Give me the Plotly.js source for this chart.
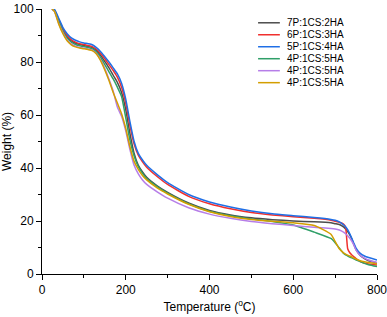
<!DOCTYPE html>
<html>
<head>
<meta charset="utf-8">
<script src="https://cdn.plot.ly/plotly-3.0.1.min.js"></script>
<style>html,body{margin:0;padding:0;background:#fff;}#chart{width:387px;height:317px;}</style>
</head>
<body>
<div id="chart"></div>
<script>
// Temperature (°C)
var temperature = [24, 30, 40, 50, 60, 70, 80, 90, 100, 110, 120, 130, 140, 150, 160, 170, 180, 190, 200, 210, 220, 230, 240, 250, 275, 300, 350, 400, 450, 500, 550, 600, 650, 690, 700, 710, 720, 725, 730, 735, 740, 745, 750, 760, 770, 780, 800];

// Weight (%) per sample
var w7P2HA = [100, 99.3, 95.5, 92, 89.5, 88, 87.1, 86.6, 86.2, 85.9, 85.4, 84.3, 82.5, 80.2, 77.8, 75, 72.3, 68.5, 62, 53, 45.5, 41, 38.5, 36.5, 33.3, 30.8, 26.8, 24, 22.3, 21.2, 20.5, 20, 19.7, 19.3, 19, 18.7, 17.8, 17, 16, 14.8, 13.2, 11, 9.2, 7, 5.8, 5, 4.2];
var w6P3HA = [100, 99.5, 96, 92.5, 90, 88.4, 87.5, 86.9, 86.6, 86.2, 85.8, 84.8, 83.2, 81.2, 79, 76.8, 74.3, 70.5, 64.5, 56, 49, 44.8, 42.3, 40.3, 36.8, 33.8, 29.3, 26.5, 24.6, 23.2, 22.3, 21.6, 21, 20.3, 19.9, 19.5, 18.8, 17.6, 9.5, 8, 7.2, 6.5, 5.8, 4.7, 4.1, 3.8, 3.4];
var w5P4HA = [100, 99.8, 96.5, 93, 90.7, 89.1, 88.2, 87.6, 87.2, 86.9, 86.5, 85.4, 83.9, 82, 80, 77.8, 75.5, 72, 66, 57.5, 50, 45.5, 43, 41, 37.5, 34.5, 30, 27.2, 25.3, 23.8, 22.7, 22, 21.3, 20.6, 20.3, 19.7, 18.6, 17.8, 16.7, 15.2, 13.4, 11.5, 9.8, 7.8, 6.8, 6.2, 5.3];
var w4P5HA_a = [100, 99.2, 95.2, 91.6, 89, 87.5, 86.6, 86.1, 85.8, 85.5, 85, 83.8, 81.7, 79, 76.3, 73.6, 70.5, 67, 59, 50.5, 44.5, 40.5, 38, 36, 33, 30.5, 26.5, 23.7, 22, 20.8, 19.8, 18.5, 15.8, 13.4, 11.8, 9.8, 7.8, 7.2, 6.8, 6.4, 6.1, 5.7, 5.3, 4.7, 4, 3.5, 2.8];
var w4P5HA_b = [100, 99, 94.5, 91, 88.3, 86.8, 86, 85.5, 85.2, 84.9, 84.5, 83.2, 80.8, 77.5, 73.5, 69, 63, 59.5, 54, 47, 41, 37.8, 35.5, 33.8, 31, 28.6, 25, 22.6, 21, 19.8, 19, 18.3, 17.6, 17.2, 17, 16.6, 15.8, 15.2, 14.4, 13.5, 12.3, 10.8, 9, 7, 6, 5.3, 4.3];
var w4P5HA_c = [100, 99, 94.3, 90.7, 88, 86.5, 85.7, 85.3, 85, 84.7, 84.3, 83, 80.5, 77, 73, 68.5, 64.5, 60.5, 55, 48, 42.5, 39.5, 37.2, 35.5, 32.5, 30.2, 26.3, 23.5, 21.7, 20.6, 19.9, 19.3, 18.3, 15, 12.3, 9.5, 8, 7.5, 7.1, 6.8, 6.4, 6, 5.6, 5, 4.6, 4.3, 3.9];

var seriesNames = ["7P:1CS:2HA", "6P:1CS:3HA", "5P:1CS:4HA", "4P:1CS:5HA", "4P:1CS:5HA", "4P:1CS:5HA"];
var seriesValues = [w7P2HA, w6P3HA, w5P4HA, w4P5HA_a, w4P5HA_b, w4P5HA_c];
var seriesColors = ["#4d4d4d", "#f0302e", "#1f6fe6", "#2f9f68", "#b67ee8", "#d39e00"];

var yTickVals = [0, 20, 40, 60, 80, 100];
var yTickText = ["0", "20", "40", "60", "80", "100"];

var traces = seriesValues.map(function (vals, i) {
  return {
    type: "scatter", mode: "lines", x: temperature, y: vals, name: seriesNames[i],
    line: {color: seriesColors[i], width: 1.5, shape: "spline", smoothing: 0.5},
    showlegend: false
  };
});

var FONT = "Liberation Sans, Arial, sans-serif";

// Compact legend (the native one cannot be this tight)
var shapes = [], annotations = [];
var lx0 = 0.645, lx1 = 0.71, tx = 0.725, ly0 = 0.948, lstep = 0.0452;
seriesNames.forEach(function (n, i) {
  var yy = ly0 - i * lstep;
  shapes.push({type: "line", xref: "paper", yref: "paper", x0: lx0, x1: lx1, y0: yy, y1: yy,
    line: {color: seriesColors[i], width: 1.5}});
  annotations.push({xref: "paper", yref: "paper", x: tx, y: yy, xanchor: "left", yanchor: "middle",
    text: n, showarrow: false, font: {family: FONT, size: 10, color: "#000"}});
});

var axisCommon = {
  showline: true, linecolor: "#000", linewidth: 1, mirror: false,
  ticks: "outside", ticklen: 5, tickwidth: 1, tickcolor: "#000",
  showgrid: false, zeroline: false, ticklabeloverflow: "allow", automargin: false,
  tickfont: {family: FONT, size: 12, color: "#000"},
  minor: {ticks: "outside", ticklen: 3, tickwidth: 1, tickcolor: "#000", showgrid: false}
};

var layout = {
  width: 387, height: 317,
  margin: {l: 42, r: 10, t: 9, b: 43},
  paper_bgcolor: "#fff", plot_bgcolor: "#fff",
  showlegend: false,
  font: {family: FONT, size: 12, color: "#000"},
  xaxis: Object.assign({}, axisCommon, {
    range: [0, 800], tick0: 0, dtick: 200, minor: Object.assign({}, axisCommon.minor, {dtick: 100}),
    title: {text: "Temperature (<sup>o</sup>C)", font: {size: 12, color: "#000"}, standoff: 6}
  }),
  yaxis: Object.assign({}, axisCommon, {
    range: [0, 100], tickmode: "array", tickvals: yTickVals, ticktext: yTickText,
    minor: Object.assign({}, axisCommon.minor, {tickmode: "linear", tick0: 0, dtick: 10}),
    title: {text: "Weight (%)", font: {size: 12, color: "#000"}, standoff: 6}
  }),
  shapes: shapes,
  annotations: annotations
};

Plotly.newPlot("chart", traces, layout, {displayModeBar: false, staticPlot: true});
</script>
</body>
</html>
